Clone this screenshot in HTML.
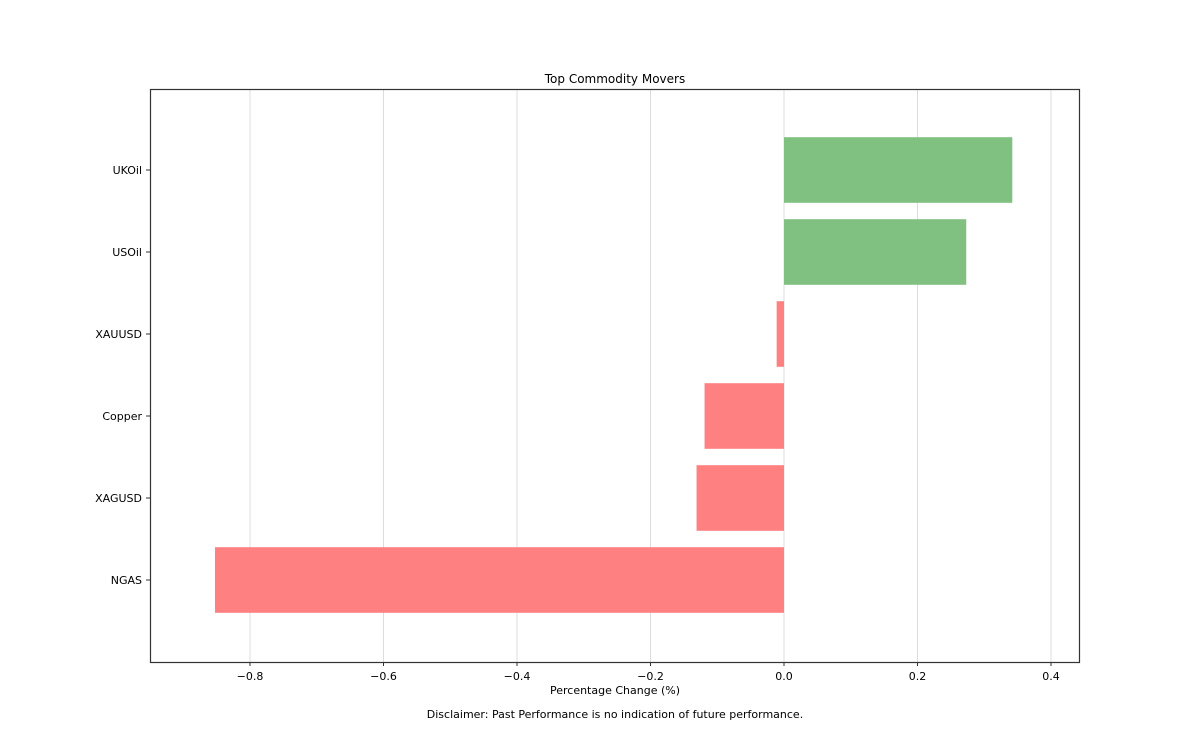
<!DOCTYPE html>
<html><head><meta charset="utf-8"><style>
body{margin:0;background:#fff;}
svg text{font-family:"DejaVu Sans","Liberation Sans",sans-serif;fill:#000;}
</style></head><body>
<svg width="1199" height="745" xmlns="http://www.w3.org/2000/svg">
<g id="grid"></g>
<g id="bars"></g>
<rect x="150.5" y="89.5" width="929" height="573" fill="none" stroke="#333" stroke-width="1.2"/>
<g id="xt"></g>
<g id="yt"></g>
<text x="615" y="83" font-size="12" text-anchor="middle">Top Commodity Movers</text>
<text x="615" y="694" font-size="11" text-anchor="middle">Percentage Change (%)</text>
<text x="615" y="718" font-size="11" text-anchor="middle">Disclaimer: Past Performance is no indication of future performance.</text>
</svg>
<script>
const categories=["NGAS","XAGUSD","Copper","XAUUSD","USOil","UKOil"];
const values=[-0.8525,-0.131,-0.119,-0.011,0.273,0.342];
const xTicks=[-0.8,-0.6,-0.4,-0.2,0.0,0.4,0.2];
const xTickLabels=["\u22120.8","\u22120.6","\u22120.4","\u22120.2","0.0","0.4","0.2"];
const NS="http://www.w3.org/2000/svg";
const x=v=>784+v*667.5;
const y=i=>580-i*82;
function mk(t,a,p){const e=document.createElementNS(NS,t);for(const k in a)e.setAttribute(k,a[k]);p.appendChild(e);return e;}
const g=document.getElementById('grid'),b=document.getElementById('bars'),xt=document.getElementById('xt'),yt=document.getElementById('yt');
xTicks.forEach((v,i)=>{
 const l=mk('line',{x1:x(v),x2:x(v),y1:90,y2:662,stroke:'#dcdcdc','stroke-width':1},g);
 
 
 const tk=mk('line',{x1:x(v),x2:x(v),y1:662,y2:666,stroke:'#333'},xt);
 
 
 const t=mk('text',{x:x(v),y:680,'font-size':11,'text-anchor':'middle'},xt);
 t.textContent=xTickLabels[i];
 
 
});
categories.forEach((c,i)=>{
 const v=values[i];
 const r=mk('rect',{x:Math.min(x(0),x(v)),y:y(i)-32.8,width:Math.abs(x(v)-x(0)),height:65.6,fill:v>=0?'#80c080':'#ff8080'},b);
 
 
 const tk=mk('line',{x1:146,x2:150,y1:y(i),y2:y(i),stroke:'#333'},yt);
 
 
 const t=mk('text',{x:142,y:y(i)+4,'font-size':11,'text-anchor':'end'},yt);
 t.textContent=c;
 
 
});
</script>
</body></html>
